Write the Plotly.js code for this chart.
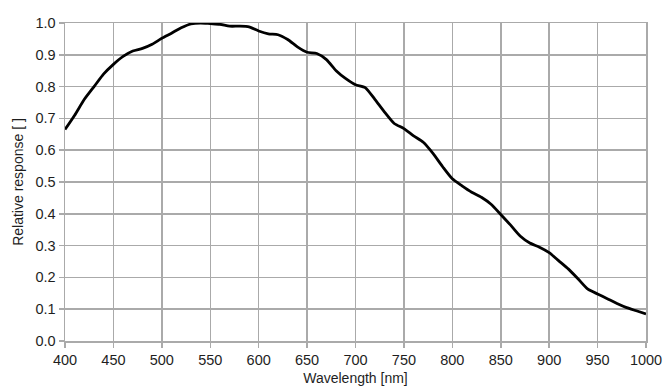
<!DOCTYPE html>
<html><head><meta charset="utf-8">
<script src="https://cdn.plot.ly/plotly-3.0.1.min.js"></script>
<style>body{margin:0;background:#fff}#c{width:669px;height:392px}</style>
</head><body><div id="c"></div>
<script>
const wavelength = [400,410,420,430,440,450,460,470,480,490,500,510,520,530,540,550,560,570,580,590,600,610,620,630,640,650,660,670,680,690,700,710,720,730,740,750,760,770,780,790,800,810,820,830,840,850,860,870,880,890,900,910,920,930,940,950,960,970,980,990,1000];
const response = [0.665,0.71,0.76,0.80,0.84,0.87,0.895,0.912,0.92,0.933,0.952,0.968,0.985,0.997,1.0,0.998,0.996,0.99,0.99,0.988,0.975,0.966,0.963,0.948,0.925,0.908,0.904,0.885,0.85,0.825,0.806,0.797,0.76,0.72,0.684,0.668,0.645,0.625,0.59,0.548,0.51,0.488,0.468,0.452,0.43,0.398,0.365,0.33,0.308,0.295,0.278,0.252,0.226,0.195,0.163,0.148,0.133,0.118,0.105,0.095,0.085];
const xTicks = [400,450,500,550,600,650,700,750,800,850,900,950,1000];
const yTicks = [0,0.1,0.2,0.3,0.4,0.5,0.6,0.7,0.8,0.9,1.0];
const yTickText = yTicks.map(v => v.toFixed(1));

const gridColor = '#aaaaaa';
const txt = '#1e1e1e';
Plotly.newPlot('c', [{
  x: wavelength, y: response, type: 'scatter', mode: 'lines',
  line: {color: '#000', width: 2.8, shape: 'spline', smoothing: 0.6},
  hoverinfo: 'skip'
}], {
  width: 669, height: 392,
  margin: {l: 65, r: 23, t: 23, b: 51},
  paper_bgcolor: '#fff', plot_bgcolor: '#fff',
  font: {family: 'Liberation Sans, Arial, sans-serif', size: 14, color: txt},
  showlegend: false,
  xaxis: {
    range: [400, 1000], tickvals: xTicks, ticktext: xTicks.map(String),
    showgrid: true, gridcolor: gridColor, gridwidth: 1.5,
    zeroline: false, showline: true, linecolor: gridColor, linewidth: 1.5, mirror: true,
    ticks: 'outside', ticklen: 5, tickcolor: gridColor, tickwidth: 1.5,
    tickfont: {size: 14.5, color: txt},
    title: {text: 'Wavelength [nm]', font: {size: 14, color: txt}, standoff: 6}
  },
  yaxis: {
    range: [0, 1.0], tickvals: yTicks, ticktext: yTickText,
    showgrid: true, gridcolor: gridColor, gridwidth: 1.5,
    zeroline: false, showline: true, linecolor: gridColor, linewidth: 1.5, mirror: true,
    ticks: 'outside', ticklen: 5, tickcolor: gridColor, tickwidth: 1.5,
    tickfont: {size: 14.5, color: txt},
    title: {text: 'Relative response [ ]', font: {size: 14, color: txt}, standoff: 8}
  }
}, {staticPlot: true});
</script></body></html>
